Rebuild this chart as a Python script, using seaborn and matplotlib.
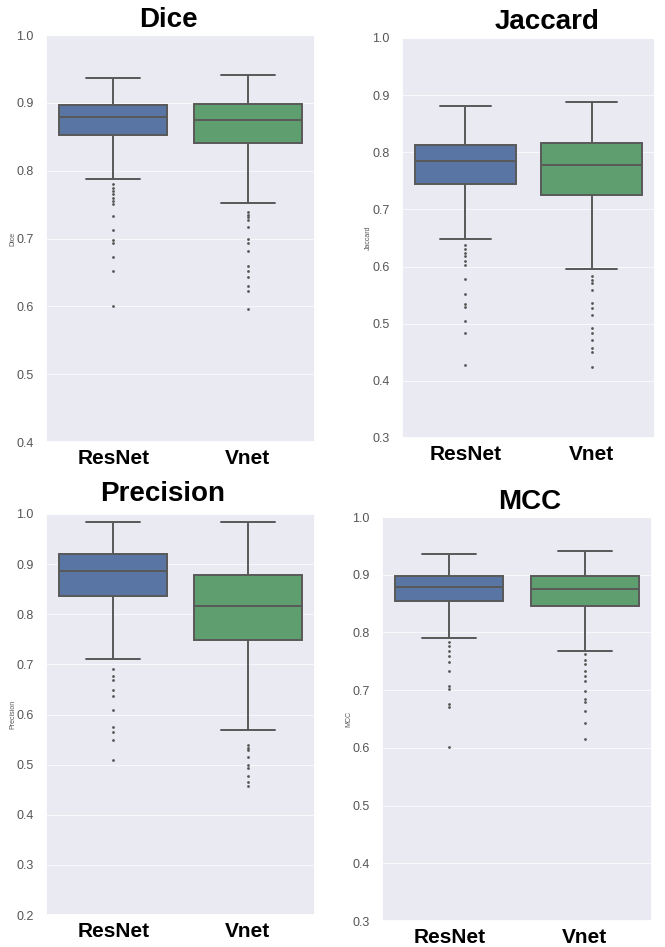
import matplotlib
matplotlib.use("Agg")
import matplotlib.pyplot as plt
import seaborn as sns
import pandas as pd

# ---------------- data ----------------
models = ["ResNet", "Vnet"]
metrics = ["Dice", "Jaccard", "Precision", "MCC"]

# box summary per model: lower whisker, Q1, median, Q3, upper whisker
dice_resnet = [0.788, 0.853, 0.879, 0.897, 0.937]
dice_vnet = [0.753, 0.841, 0.874, 0.899, 0.941]
jaccard_resnet = [0.649, 0.745, 0.784, 0.812, 0.881]
jaccard_vnet = [0.596, 0.725, 0.777, 0.817, 0.888]
precision_resnet = [0.711, 0.836, 0.886, 0.921, 0.985]
precision_vnet = [0.570, 0.748, 0.816, 0.878, 0.985]
mcc_resnet = [0.790, 0.854, 0.879, 0.897, 0.936]
mcc_vnet = [0.767, 0.845, 0.876, 0.898, 0.941]

# outliers
dice_resnet_out = [0.780, 0.775, 0.770, 0.765, 0.760, 0.755, 0.751, 0.733, 0.712,
                   0.698, 0.694, 0.672, 0.652, 0.601]
dice_vnet_out = [0.739, 0.735, 0.731, 0.727, 0.717, 0.699, 0.694, 0.682, 0.660,
                 0.652, 0.643, 0.630, 0.623, 0.596]
jaccard_resnet_out = [0.638, 0.630, 0.624, 0.618, 0.609, 0.603, 0.578, 0.552,
                      0.535, 0.530, 0.505, 0.484, 0.428]
jaccard_vnet_out = [0.583, 0.577, 0.571, 0.559, 0.536, 0.527, 0.516, 0.492,
                    0.484, 0.472, 0.457, 0.450, 0.424]
precision_resnet_out = [0.691, 0.676, 0.669, 0.648, 0.636, 0.609, 0.576, 0.566,
                        0.549, 0.509]
precision_vnet_out = [0.539, 0.534, 0.529, 0.516, 0.499, 0.493, 0.478, 0.466, 0.458]
mcc_resnet_out = [0.783, 0.776, 0.767, 0.759, 0.748, 0.733, 0.707, 0.702, 0.676,
                  0.670, 0.601]
mcc_vnet_out = [0.762, 0.753, 0.745, 0.733, 0.724, 0.715, 0.699, 0.684, 0.679,
                0.663, 0.643, 0.616]

y_limits = {"Dice": (0.4, 1.0), "Jaccard": (0.3, 1.0),
            "Precision": (0.2, 1.0), "MCC": (0.3, 1.0)}

boxes = {"Dice": (dice_resnet, dice_vnet), "Jaccard": (jaccard_resnet, jaccard_vnet),
         "Precision": (precision_resnet, precision_vnet), "MCC": (mcc_resnet, mcc_vnet)}
outs = {"Dice": (dice_resnet_out, dice_vnet_out),
        "Jaccard": (jaccard_resnet_out, jaccard_vnet_out),
        "Precision": (precision_resnet_out, precision_vnet_out),
        "MCC": (mcc_resnet_out, mcc_vnet_out)}

# ---------------- style ----------------
sns.set_theme(style="darkgrid")
plt.rcParams["font.family"] = ["Liberation Sans", "DejaVu Sans"]

palette = ["#4C72B0", "#55A868"]

fig = plt.figure(figsize=(6.65, 9.47), dpi=100)
W, H = 665.0, 947.0

# axes boxes in pixels: left, top, right, bottom
axes_px = {"Dice": (46, 35, 315, 442),
           "Jaccard": (402, 38, 655, 438),
           "Precision": (46, 514, 315, 915),
           "MCC": (382, 517, 652, 921)}
title_px = {"Dice": (168, 20), "Jaccard": (547, 22),
            "Precision": (163, 494), "MCC": (530, 502)}

for m in metrics:
    l, t, r, b = axes_px[m]
    ax = fig.add_axes([l / W, 1 - b / H, (r - l) / W, (b - t) / H])
    rows = []
    for mod, vals in zip(models, boxes[m]):
        for v in vals:
            rows.append({"model": mod, "value": v})
    df = pd.DataFrame(rows)
    orows = []
    for mod, vals in zip(models, outs[m]):
        for v in vals:
            orows.append({"model": mod, "value": v})
    odf = pd.DataFrame(orows)

    sns.boxplot(data=df, x="model", y="value", hue="model", order=models,
                hue_order=models, palette=palette, whis=(0, 100), width=0.8,
                linewidth=1.4, linecolor="#595959", legend=False, ax=ax)
    sns.stripplot(data=odf, x="model", y="value", order=models, jitter=False,
                  color="#555555", size=2.0, ax=ax)

    ax.set_ylim(*y_limits[m])
    lo, hi = y_limits[m]
    ticks = [round(lo + 0.1 * i, 1) for i in range(int(round((hi - lo) / 0.1)) + 1)]
    ax.set_yticks(ticks)
    ax.set_yticklabels([f"{tk:.1f}" for tk in ticks], fontsize=9, color="#555555")
    ax.tick_params(axis="y", pad=3)
    ax.set_xticks(range(len(models)))
    ax.set_xticklabels(models, fontsize=15, fontweight="bold", color="black")
    ax.tick_params(axis="x", pad=-1)
    ax.set_xlabel("")
    ax.set_ylabel(m, fontsize=5, color="#555555", labelpad=0)
    ax.grid(axis="x", visible=False)
    ax.grid(axis="y", color="white", linewidth=0.6, alpha=0.8)

    tx, ty = title_px[m]
    fig.text(tx / W, 1 - ty / H, m, ha="center", va="center",
             fontsize=20, fontweight="bold", color="black")

fig.savefig("out.png", dpi=100)
